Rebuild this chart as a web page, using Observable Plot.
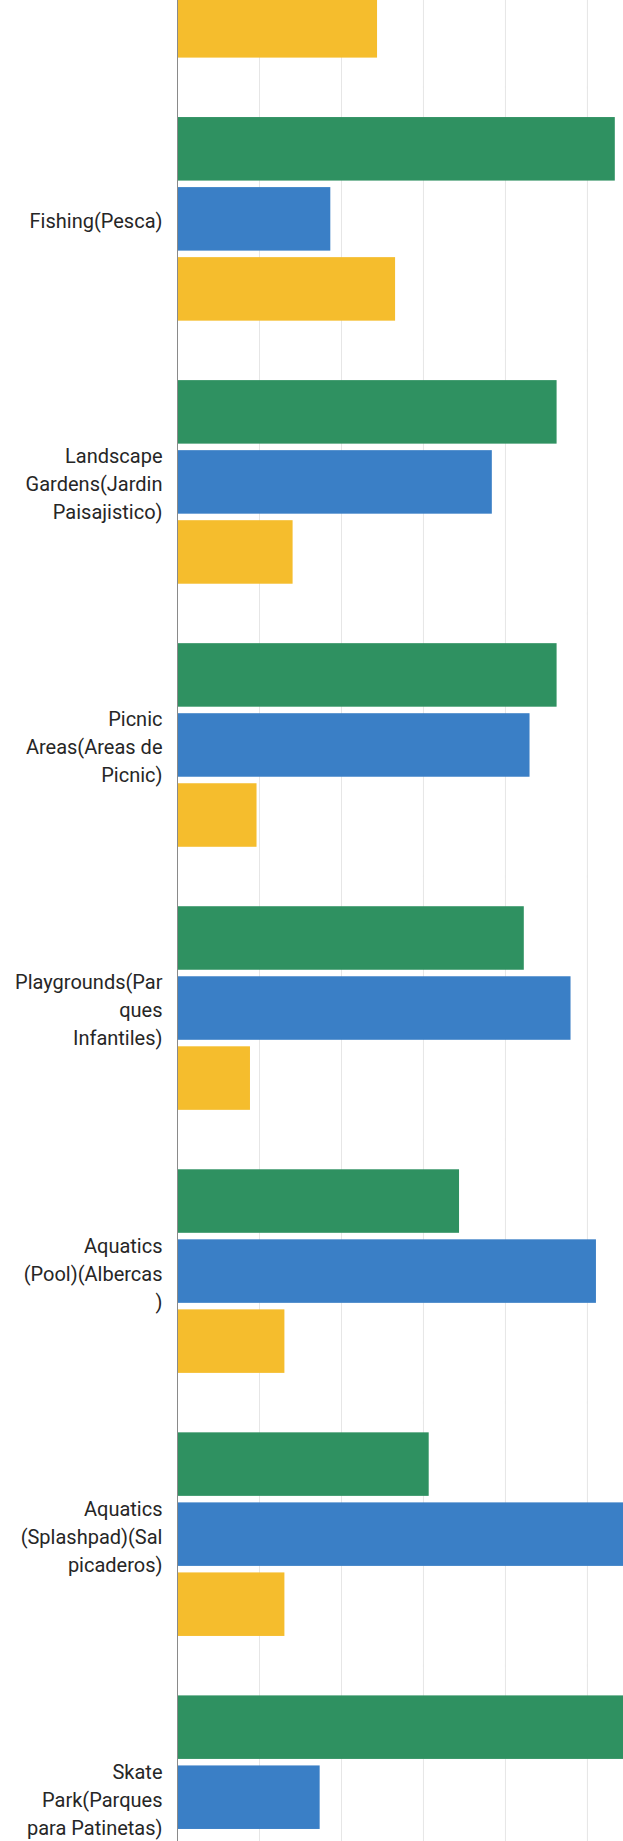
<!DOCTYPE html>
<html>
<head>
<meta charset="utf-8">
<script src="https://cdn.jsdelivr.net/npm/d3@7"></script>
<script src="https://cdn.jsdelivr.net/npm/@observablehq/plot@0.6"></script>
<style>
  html, body { margin: 0; padding: 0; background: #fff; overflow: hidden; }
  #chart svg { display: block; margin-top: -146px; }
</style>
</head>
<body>
<div id="chart"></div>
<script>
// Categories (the first one is cut off above the picture; only its last bar shows)
const categories = ["prev", "fishing", "landscape", "picnic", "playgrounds", "pool", "splashpad", "skate"];
const labels = [
  "",
  "Fishing(Pesca)",
  "Landscape\nGardens(Jardin\nPaisajistico)",
  "Picnic\nAreas(Areas de\nPicnic)",
  "Playgrounds(Par\nques\nInfantiles)",
  "Aquatics\n(Pool)(Albercas\n)",
  "Aquatics\n(Splashpad)(Sal\npicaderos)",
  "Skate\nPark(Parques\npara Patinetas)"
];
const seriesNames = ["Serie 1", "Serie 2", "Serie 3"];
const seriesColors = ["#2f9161", "#3a7fc6", "#f5bd2d"];
const green  = [null, 53.4, 46.3, 46.3, 42.3, 34.4, 30.7, 60.0];
const blue   = [null, 18.7, 38.4, 43.0, 48.0, 51.1, 58.0, 17.4];
const yellow = [24.4, 26.6, 14.1, 9.7, 8.9, 13.1, 13.1, null];
const gridTicks = [10, 20, 30, 40, 50];

const rows = [];
categories.forEach((c, i) => {
  [green, blue, yellow].forEach((arr, j) => {
    if (arr[i] != null) rows.push({cat: c, series: seriesNames[j], value: arr[i]});
  });
});
const labelRows = categories.map((c, i) => ({cat: c, label: labels[i]}));

const plot = Plot.plot({
  width: 623,
  height: 2045,
  marginLeft: 177,
  marginRight: 0,
  marginTop: 0,
  marginBottom: 0,
  style: {fontFamily: "Roboto, sans-serif", background: "#fff"},
  x: {domain: [0, 54.4], axis: null},
  y: {domain: seriesNames, paddingInner: 0.093, paddingOuter: 0, round: false, axis: null},
  fy: {domain: categories, paddingInner: 0.226, paddingOuter: 0, align: 0, round: false, axis: null},
  color: {domain: seriesNames, range: seriesColors},
  marks: [
    Plot.ruleX(gridTicks, {stroke: "#e6e6e6", strokeWidth: 1, insetTop: -31, insetBottom: -31}),
    Plot.barX(rows, {fy: "cat", y: "series", x: "value", fill: "series"}),
    Plot.ruleX([0], {stroke: "#8a8a8a", strokeWidth: 1, insetTop: -31, insetBottom: -31}),
    Plot.text(labelRows, {fy: "cat", x: 0, text: "label", textAnchor: "end", dx: -15,
      fontSize: 20, lineHeight: 1.4, fill: "#262626"})
  ]
});
document.getElementById("chart").appendChild(plot);
</script>
</body>
</html>
